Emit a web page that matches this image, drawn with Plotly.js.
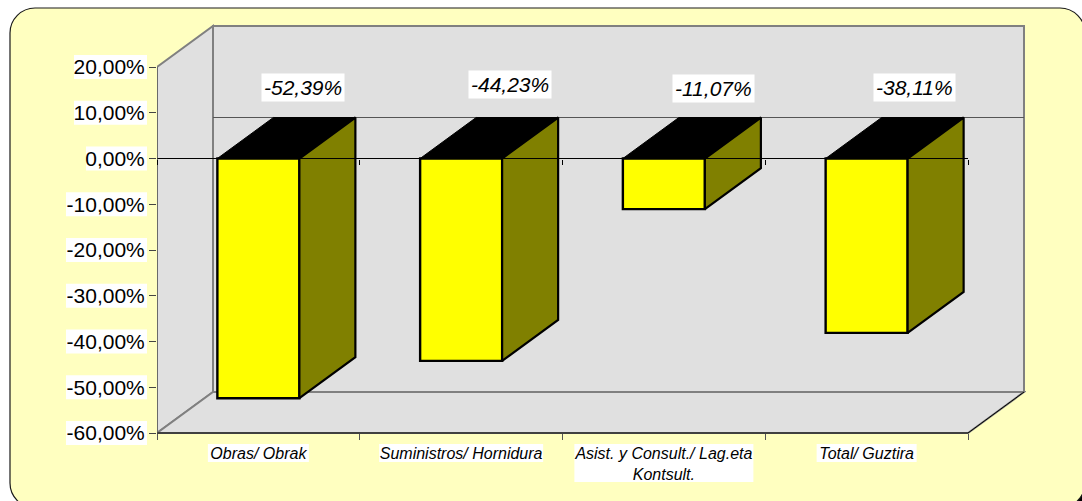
<!DOCTYPE html>
<html><head><meta charset="utf-8">
<script src="https://cdn.plot.ly/plotly-3.0.1.min.js"></script>
<style>html,body{margin:0;padding:0;background:#fff;overflow:hidden}</style>
</head><body><div id="chart" style="width:1082px;height:501px"></div>
<script>
// ---- data ----
var categories = ['Obras/ Obrak','Suministros/ Hornidura','Asist. y Consult./ Lag.eta<br>Kontsult.','Total/ Guztira'];
var values = [-52.39,-44.23,-11.07,-38.11];
var valueLabels = ['-52,39%','-44,23%','-11,07%','-38,11%'];
var yTicks = [20,10,0,-10,-20,-30,-40,-50,-60];
var yTickLabels = ['20,00%','10,00%','0,00%','-10,00%','-20,00%','-30,00%','-40,00%','-50,00%','-60,00%'];

// ---- geometry of the pseudo 3D box (axis units) ----
var W=1082,H=501, L=157, pxCat=202.75, pxVal=4.575, yPx20=67;
var yLo=-60, yHi=20, nCat=categories.length;
var depthX=56/pxCat, depthY=41/pxVal;
var barW=82/pxCat;
var xMax=nCat+58/pxCat, yTop=yHi+43/pxVal, yBot=yLo-17/pxVal;
var mT=yPx20-43, mB=H-(yPx20+(yHi-yLo)*pxVal+17), mR=W-L-xMax*pxCat;
var plotW=W-L-mR, plotH=H-mT-mB;
var centers=categories.map(function(c,i){return i+0.5;});
var frac=function(v){return (v-yBot)/(yTop-yBot);};
var px2fx=function(p){return (p-L)/plotW;};
var px2fy=function(p){return 1-(p-mT)/plotH;};

var shapes=[];
// dark corner showing behind the rounded frame, then the frame itself
(function(){
  var X=px2fx,Y=px2fy;
  var P=function(a,b){return X(a)+','+Y(b);};
  shapes.push({type:'path',xref:'paper',yref:'paper',layer:'below',
    path:'M'+P(1060,501)+' L'+P(1082,501)+' L'+P(1082,480)+' Z',fillcolor:'#000',line:{width:0}});
  var l=10,t=8,r=1085,b=508,c=25,k=c*0.45;
  shapes.push({type:'path',xref:'paper',yref:'paper',layer:'below',
    path:'M'+P(l+c,t)+' L'+P(r-c,t)+' C'+P(r-k,t)+' '+P(r,t+k)+' '+P(r,t+c)+
         ' L'+P(r,b-c)+' C'+P(r,b-k)+' '+P(r-k,b)+' '+P(r-c,b)+
         ' L'+P(l+c,b)+' C'+P(l+k,b)+' '+P(l,b-k)+' '+P(l,b-c)+
         ' L'+P(l,t+c)+' C'+P(l,t+k)+' '+P(l+k,t)+' '+P(l+c,t)+' Z',
    fillcolor:'#FFFFC0',line:{color:'#1a1a1a',width:1.2}});
})();
function poly(pts,fill,color,width){
  shapes.push({type:'path',xref:'x',yref:'y',layer:'below',
    path:'M'+pts.map(function(p){return p[0]+','+p[1];}).join(' L')+' Z',
    fillcolor:fill,line:{color:color,width:width}});
}
function seg(a,b,color,width){
  shapes.push({type:'line',xref:'x',yref:'y',layer:'below',x0:a[0],y0:a[1],x1:b[0],y1:b[1],line:{color:color,width:width}});
}
var wallGrey='#E0E0E0', edge='#808080';
// walls and floor
poly([[depthX,yLo+depthY],[depthX+nCat,yLo+depthY],[depthX+nCat,yHi+depthY],[depthX,yHi+depthY]],wallGrey,edge,2);
poly([[0,yHi],[depthX,yHi+depthY],[depthX,yLo+depthY],[0,yLo]],wallGrey,edge,2);
poly([[0,yLo],[depthX,yLo+depthY],[depthX+nCat,yLo+depthY],[nCat,yLo]],wallGrey,edge,2);
seg([nCat,yLo],[depthX+nCat,yLo+depthY],'#000',1);
seg([depthX,depthY],[depthX+nCat,depthY],'#555',1);

// white label boxes behind the value-axis tick labels
yTicks.forEach(function(v){
  var w=v===0?61:(v<0?81:73);
  shapes.push({type:'rect',layer:'below',xref:'paper',yref:'y',xsizemode:'pixel',ysizemode:'pixel',
    xanchor:0,yanchor:v,x0:-10-w,x1:-10,y0:-12,y1:12,fillcolor:'#fff',line:{width:0}});
});
// white boxes behind the category labels
var catBox=[[101,1],[164,1],[179,2],[100,1]];
centers.forEach(function(c,i){
  var h=catBox[i][1]===2?38:18, w=catBox[i][0];
  shapes.push({type:'rect',layer:'below',xref:'x',yref:'paper',xsizemode:'pixel',ysizemode:'pixel',
    xanchor:c,yanchor:px2fy(444),x0:-w/2,x1:w/2,y0:0,y1:-h,fillcolor:'#fff',line:{width:0}});
});

var traces=[];
// front faces
traces.push({type:'bar',x:centers,y:values,width:barW,marker:{color:'#FFFF00',line:{color:'#000',width:2.4}},
  hoverinfo:'skip',showlegend:false});
// side and top faces derived from the values
values.forEach(function(v,i){
  var x1=centers[i]+barW/2, x0=centers[i]-barW/2;
  traces.push({type:'scatter',mode:'lines',x:[x1,x1+depthX,x1+depthX,x1,x1],y:[0,depthY,v+depthY,v,0],
    fill:'toself',fillcolor:'#808000',line:{color:'#000',width:2.2},hoverinfo:'skip',showlegend:false,cliponaxis:false});
  traces.push({type:'scatter',mode:'lines',x:[x0,x1,x1+depthX,x0+depthX,x0],y:[0,0,depthY,depthY,0],
    fill:'toself',fillcolor:'#000',line:{color:'#000',width:1},hoverinfo:'skip',showlegend:false,cliponaxis:false});
});
// axis lines
traces.push({type:'scatter',mode:'lines',x:[0,nCat],y:[0,0],line:{color:'#000',width:1},hoverinfo:'skip',showlegend:false,cliponaxis:false});
traces.push({type:'scatter',mode:'lines',x:[0,nCat],y:[yLo,yLo],line:{color:'#000',width:1},hoverinfo:'skip',showlegend:false,cliponaxis:false});
traces.push({type:'scatter',mode:'lines',x:[0,0],y:[yLo,yHi],line:{color:'#555',width:1},hoverinfo:'skip',showlegend:false,cliponaxis:false});
// carriers for the overlaid category axes
traces.push({type:'scatter',mode:'none',x:[0.5],y:[0],xaxis:'x2',hoverinfo:'skip',showlegend:false});
traces.push({type:'scatter',mode:'none',x:[0.5],y:[0],xaxis:'x3',hoverinfo:'skip',showlegend:false});

var boundaries=[0,1,2,3,4];
var labelPx=[[303,87],[510,84],[713,88],[914,87]];
var annotations=values.map(function(v,i){
  return {xref:'x',yref:'y',x:(labelPx[i][0]-L)/pxCat,y:yHi-(labelPx[i][1]-yPx20)/pxVal,text:valueLabels[i],showarrow:false,
    bgcolor:'#fff',borderpad:2,xanchor:'center',yanchor:'middle',
    font:{family:'"Liberation Sans",Arial,sans-serif',size:21,color:'#000',style:'italic'}};
});
var layout={width:W,height:H,paper_bgcolor:'#fff',plot_bgcolor:'rgba(0,0,0,0)',
  margin:{l:L,r:mR,t:mT,b:mB,pad:0},showlegend:false,bargap:0,
  font:{family:'"Liberation Sans",Arial,sans-serif',color:'#000'},
  xaxis:{range:[0,xMax],anchor:'free',position:frac(yLo),tickmode:'array',tickvals:boundaries,ticktext:boundaries.map(function(){return '';}),
    ticks:'outside',ticklen:6,tickwidth:1,tickcolor:'#555',showgrid:false,zeroline:false,showline:false,showticklabels:false,fixedrange:true},
  xaxis2:{range:[0,xMax],overlaying:'x',anchor:'free',position:frac(yLo),side:'bottom',tickmode:'array',tickvals:centers,ticktext:categories,
    ticks:'outside',ticklen:6,tickwidth:0,tickcolor:'rgba(0,0,0,0)',showgrid:false,zeroline:false,showline:false,fixedrange:true,tickangle:0,
    tickfont:{family:'"Liberation Sans",Arial,sans-serif',size:16,color:'#000',style:'italic'}},
  xaxis3:{range:[0,xMax],overlaying:'x',anchor:'free',position:frac(0),side:'bottom',tickmode:'array',tickvals:boundaries,ticktext:boundaries.map(function(){return '';}),
    ticks:'outside',ticklen:5,tickwidth:1,tickcolor:'#000',showgrid:false,zeroline:false,showline:false,showticklabels:false,fixedrange:true},
  yaxis:{range:[yBot,yTop],tickmode:'array',tickvals:yTicks,ticktext:yTickLabels,ticks:'outside',ticklen:7,tickwidth:1,tickcolor:'#444',
    showgrid:false,zeroline:false,showline:false,fixedrange:true,
    tickfont:{family:'"Liberation Sans",Arial,sans-serif',size:21,color:'#000'}},
  shapes:shapes,annotations:annotations};
Plotly.newPlot('chart',traces,layout,{displayModeBar:false,staticPlot:true});
</script></body></html>
